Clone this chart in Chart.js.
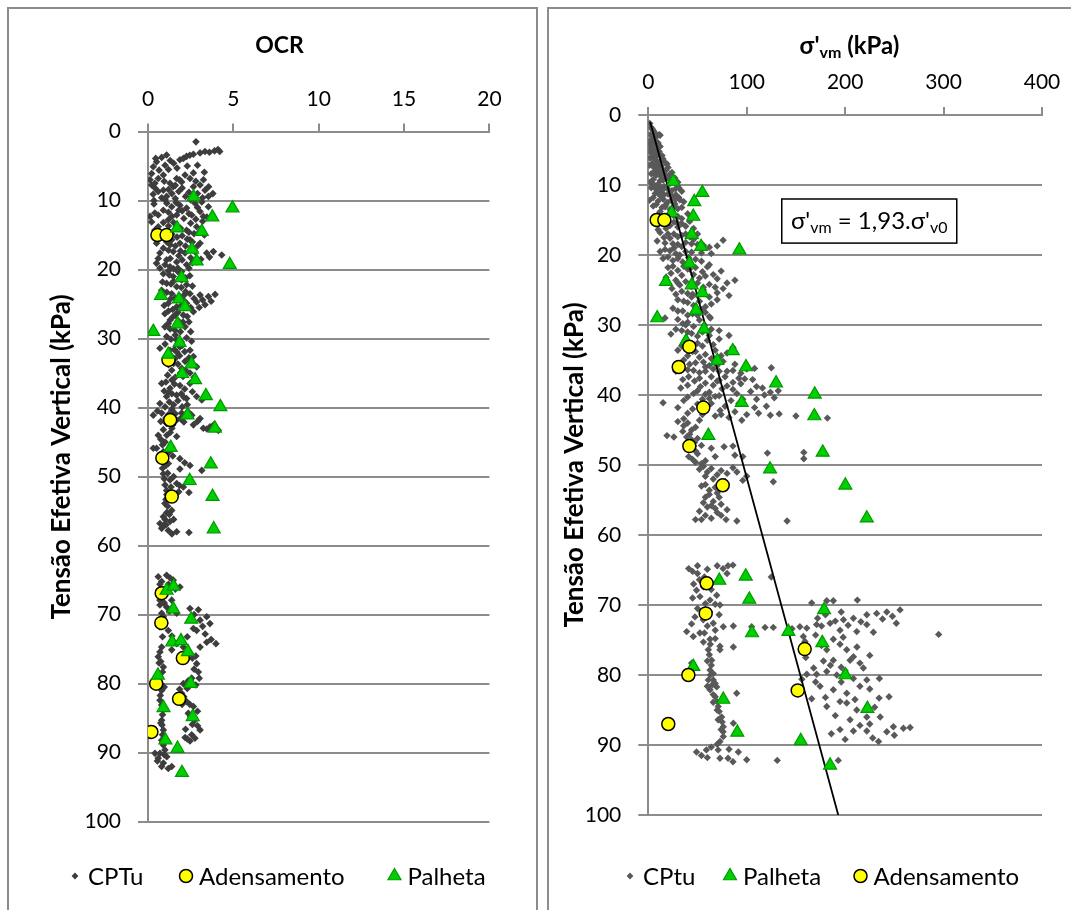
<!DOCTYPE html>
<html lang="pt">
<head>
<meta charset="utf-8">
<title>OCR e tensão de pré-adensamento</title>
<script src="https://cdn.jsdelivr.net/npm/chart.js@4.4.1/dist/chart.umd.min.js"></script>
<style>
  html, body { margin: 0; padding: 0; background: #fff; }
  body { width: 1071px; height: 910px; overflow: hidden; position: relative; }
  .panel { position: absolute; border: 2px solid #8c8c8c; box-sizing: border-box; }
  #panel-ocr { left: 7px; top: 7px; width: 531px; height: 940px; }
  #panel-svm { left: 547px; top: 7px; width: 570px; height: 940px; }
  canvas { position: absolute; }
  #chart-ocr { left: 10px; top: 10px; }
  #chart-svm { left: 550px; top: 10px; }
</style>
</head>
<body>
<div class="panel" id="panel-ocr"></div>
<div class="panel" id="panel-svm"></div>
<canvas id="chart-ocr" width="525" height="900"></canvas>
<canvas id="chart-svm" width="556" height="900"></canvas>
<script>
// -----------------------------
// Axis ticks and titles
// -----------------------------
const depthTicks = [0, 10, 20, 30, 40, 50, 60, 70, 80, 90, 100];
const ocrTicks = [0, 5, 10, 15, 20];
const svmTicks = [0, 100, 200, 300, 400];

const ocrTitle = [{ t: 'OCR' }];
const depthTitle = 'Tensão Efetiva Vertical (kPa)';
const svmTitle = [{ t: "σ'" }, { t: 'vm', sub: true }, { t: ' (kPa)' }];
const fitText = [{ t: "σ'" }, { t: 'vm', sub: true }, { t: " = 1,93.σ'" }, { t: 'v0', sub: true }];

// -----------------------------
// Ensaios de adensamento (yellow circles)
// -----------------------------
const adensDepth = [15.0, 15.0, 33.1, 36.0, 41.8, 47.3, 52.9, 66.9, 71.2, 76.3, 80.0, 82.2, 87.0];
const adensOcr   = [0.55, 1.09, 1.20, null, 1.30, 0.84, 1.39, 0.80, 0.78, 2.04, 0.48, 1.82, 0.20];
const adensSvm   = [8.5, 16.3, 41.7, 30.9, 55.9, 41.7, 75.6, 59.3, 58.3, 158.9, 40.7, 151.8, 20.3];

// -----------------------------
// Ensaios de palheta (green triangles)
// -----------------------------
const palhetaDepth = [9.5, 11.1, 12.4, 14.0, 14.5, 17.1, 18.8, 19.3, 21.2, 23.8, 24.3, 25.4, 29.0, 27.9,
  30.6, 32.3, 33.7, 35.1, 36.0, 38.3, 39.9, 41.1, 43.0, 45.8, 48.2, 50.6, 52.9, 57.6, 66.5, 65.9,
  69.2, 70.7, 74.0, 73.8, 75.4, 78.8, 80.0, 83.5, 84.8, 88.2, 89.4, 92.9];
const palhetaOcr = [2.67, 4.95, 3.77, 1.70, 3.15, 2.58, 2.85, 4.79, 1.97, 0.76, 1.81, 2.16, 0.31, 1.74,
  1.85, 1.19, 2.55, 2.00, 2.76, 3.39, 4.24, 2.31, 3.92, 1.33, 3.68, 2.44, 3.78, 3.85, 1.09, 1.50,
  1.48, 2.53, 1.42, 1.93, 2.34, 0.58, 2.50, 0.91, 2.62, 1.02, 1.73, 1.99];
const palhetaSvm = [25.4, 54.9, 46.7, 23.8, 45.7, 44.1, 53.6, 92.5, 41.7, 18.0, 44.1, 54.9, 9.1, 48.5,
  56.6, 38.3, 85.8, 70.1, 99.3, 129.8, 169.1, 94.9, 168.7, 61.0, 177.2, 123.7, 200.2, 222.0, 72.2, 99.0,
  102.6, 178.6, 105.4, 142.3, 176.8, 45.7, 200.2, 76.2, 222.6, 90.4, 154.9, 184.7];

// -----------------------------
// CPTu profile, left panel: [OCR, depth]
// -----------------------------
const cptuOcr = [
  [2.81,1.5],[3.9,2.8],[4.1,2.6],[4.2,2.9],
  [1.87,4.1],[2.07,3.9],[2.26,3.6],[2.66,3.3],[3.05,3.1],[3.34,2.9],
  [0.31,5.1],[0.5,4.4],[0.8,3.75],[1.09,3.4],[0.21,6.1],
  [0.12,7.0],[0.21,7.75],[0.41,8.2],
  [0.9,8.5],[1.29,7.5],[1.68,6.8],[2.17,6.3],[2.66,6.0],[1.09,9.4],[1.48,8.0],[1.97,7.3],[2.46,6.8],
  [0.6,8.7],[1.0,9.9],[1.4,9.0],[1.8,8.7],[2.2,9.4],[2.66,8.0],[3.05,7.75],[3.34,8.5],[3.54,9.4],
  [3.6,3.0],[2.45,3.45],[1.5,4.6],[1.2,5.5],[0.9,6.3],[0.6,6.8],[0.4,7.5],[1.6,7.8],[2.0,8.2],
  [2.4,8.8],[2.9,9.0],[3.2,9.6],[1.2,8.4],[0.8,9.6],[1.6,9.7],[2.5,9.9],[3.55,8.0],[0.3,9.1],[3.8,9.0],
  [0.45,3.9],[0.65,5.6],[1.0,4.9],[1.3,4.2],[1.7,5.3],[2.3,5.0],[2.9,4.9],[3.3,5.9],[0.95,7.2],
  [1.85,7.0],[2.8,7.2],[3.25,7.0],
  [3.15,10.2],[2.75,10.4],[2.26,11.1],[1.87,10.7],[1.39,10.9],[0.9,11.4],[0.6,12.1],[1.68,12.1],
  [2.56,12.1],[3.05,11.6],[3.54,10.9],[3.24,12.3],[1.19,12.8],[0.12,12.3],[0.21,13.1],
  [0.6,13.8],[1.09,14.5],[1.68,13.8],[2.26,14.3],[2.85,13.8],[1.39,15.7],[1.87,16.2],[2.46,15.7],
  [3.05,16.2],[0.9,16.9],[1.48,17.4],[2.17,17.6],[2.75,17.4],[3.44,17.6],[3.83,17.4],[4.32,17.9],
  [0.6,18.4],[1.09,18.6],[1.68,18.9],[2.26,19.3],[0.7,19.8],[1.29,19.6],[1.97,20.3],[2.85,18.9],[0.5,19.1],
  [0.35,10.5],[1.1,10.4],[1.65,10.3],[2.0,11.5],[2.9,11.0],[0.4,11.8],[1.4,12.3],[2.1,12.6],[2.8,12.7],
  [0.9,13.2],[1.5,13.2],[2.5,13.3],[3.2,13.0],[0.4,14.3],[0.85,15.2],[1.4,14.9],[2.0,15.1],[2.7,14.8],
  [3.3,15.0],[0.5,16.2],[1.1,16.0],[1.6,16.6],[2.2,16.6],[2.9,16.6],[0.7,17.6],[1.8,18.0],[2.5,18.3],
  [3.1,18.5],[1.0,19.3],[1.5,19.9],[2.4,19.8],[3.6,18.2],
  [0.35,10.0],[1.2,11.7],[1.8,11.4],[2.4,11.9],[3.45,12.4],[0.7,14.8],[1.2,13.7],[1.9,14.0],[2.4,14.6],
  [3.0,14.6],[1.1,15.5],[1.7,15.3],[2.3,15.6],[1.3,16.4],[2.6,16.0],[1.2,17.2],[1.9,17.3],[1.3,18.4],
  [2.0,18.6],[2.6,19.0],[1.75,19.8],
  [1.48,21.0],[1.97,21.5],[1.09,22.0],[1.68,22.5],[2.26,22.2],[0.8,23.0],[1.39,23.5],[1.87,23.9],
  [2.46,23.5],[3.05,23.7],[3.54,23.9],[3.93,23.6],[2.85,24.7],[3.34,25.1],[1.19,24.9],[1.68,25.4],
  [2.26,24.9],[0.99,26.4],[1.48,26.8],[2.07,26.6],[2.66,26.1],[1.19,27.8],
  [0.9,20.6],[1.25,20.8],[1.75,20.3],[2.45,20.9],[0.85,21.8],[1.35,22.1],[1.95,22.6],[2.6,22.4],
  [1.1,23.3],[1.6,24.1],[2.15,23.6],[2.7,24.2],[3.2,24.4],[3.7,24.6],[0.95,25.2],[1.45,25.8],
  [1.95,25.2],[2.5,25.5],[3.0,25.5],[1.2,26.0],[1.75,26.2],[2.3,26.8],[1.3,27.3],[1.8,27.5],[2.4,27.6],
  [1.2,20.2],[2.2,21.2],[1.5,21.7],[2.2,23.2],[1.3,24.3],[2.1,24.5],[1.6,26.6],[2.05,27.6],
  [0.99,28.3],[1.58,28.8],[2.17,28.3],[1.09,29.7],[1.68,30.2],[2.26,29.9],[0.7,31.4],[1.29,31.7],
  [1.87,31.2],[2.46,31.7],[1.09,33.1],[1.58,32.9],[2.17,33.3],[2.66,32.6],[1.39,34.6],[1.97,34.3],
  [2.46,35.0],[2.85,34.1],
  [1.3,28.6],[1.9,29.0],[2.5,29.0],[1.35,30.1],[1.95,30.5],[2.55,30.4],[1.0,30.8],[1.55,31.6],
  [2.15,31.9],[1.3,32.5],[1.85,32.5],[2.4,32.8],[1.2,33.8],[1.75,33.7],[2.2,34.6],[1.15,35.3],
  [1.6,35.6],[2.05,35.5],[2.7,35.6],[1.6,29.5],[2.0,31.0],[1.7,32.0],[1.5,33.6],[1.9,35.0],
  [0.8,36.5],[1.29,37.2],[1.87,36.8],[2.46,36.5],[1.09,38.4],[1.68,38.2],[2.26,38.7],[2.85,38.4],
  [3.44,38.2],[0.7,39.4],[1.0,39.9],[1.5,39.6],[2.0,39.9],
  [1.05,36.3],[1.55,36.6],[2.15,37.3],[0.95,37.6],[1.4,38.0],[1.95,38.0],[2.6,37.7],[3.15,38.9],
  [1.25,39.2],[1.75,39.0],[2.3,39.6],[1.4,36.0],[1.2,37.8],[2.1,38.5],
  [0.31,41.1],[0.8,40.8],[1.39,40.4],[1.97,40.8],[2.56,41.1],[3.05,41.6],[3.63,42.8],[4.12,43.3],
  [2.66,42.5],[3.24,43.0],[1.68,41.8],[1.09,42.3],[1.2,41.0],[2.1,42.1],[0.9,43.2],[1.3,43.6],
  [0.55,40.5],[1.05,41.5],[1.6,40.9],[2.35,40.6],[0.75,42.0],[1.45,42.5],[2.9,42.0],[3.45,43.1],[3.85,42.5],
  [1.4,40.2],[1.9,41.6],[1.4,43.0],
  [0.6,44.0],[1.0,45.0],[0.5,45.9],[0.9,46.4],[1.39,45.7],[0.7,47.6],[1.19,48.1],[1.87,47.4],
  [2.46,48.4],[1.87,48.9],[3.15,49.1],[0.31,45.9],[1.68,44.2],[0.75,44.6],[0.8,46.9],[0.85,48.8],
  [1.1,44.0],[0.85,45.4],[1.2,46.5],[0.95,47.5],[1.05,48.4],[1.45,47.0],[2.15,48.0],
  [0.9,49.6],[1.29,50.5],[1.68,51.0],[2.07,51.5],[1.09,52.0],[1.58,52.9],[2.4,52.3],[0.99,53.9],
  [1.39,54.9],[0.9,55.8],[1.29,56.5],[0.8,57.5],[1.19,57.8],[1.68,58.0],[2.4,58.1],
  [0.95,50.3],[1.0,51.2],[1.1,52.6],[1.05,53.3],[1.15,54.3],[1.1,55.2],[1.0,56.2],[0.95,57.0],[1.4,58.3],
  [1.15,49.5],[1.5,50.0],[1.35,51.5],[1.85,51.3],[1.25,53.2],[1.8,52.2],[1.25,55.5],[1.05,57.0],
  [0.7,56.8],[1.5,56.2],
  [0.6,64.5],[1.09,64.3],[1.48,65.0],[1.87,66.0],[0.9,66.4],[0.7,67.9],[1.09,68.9],[1.39,67.9],
  [0.8,69.8],[1.68,69.8],[0.8,65.2],[1.2,65.6],[0.85,67.2],[0.95,68.3],[0.75,70.6],[1.0,71.2],
  [1.3,64.7],[0.7,65.6],[1.6,66.3],[1.05,66.8],[0.7,68.6],[1.25,69.5],[0.9,70.3],
  [2.46,69.1],[2.95,69.3],[3.44,70.3],[3.63,71.3],[3.05,70.8],[0.7,71.8],[1.19,72.3],[2.66,72.0],
  [2.7,70.0],[3.2,71.7],[2.85,72.3],[3.35,72.8],[2.3,73.2],[1.4,73.1],[0.85,73.2],[3.7,73.6],
  [3.98,74.2],[0.8,74.7],[0.6,76.1],[0.9,77.6],[0.7,79.0],[0.8,81.0],[0.7,82.4],[0.9,83.8],
  [0.8,85.3],[0.9,86.7],[0.8,88.2],[0.99,89.6],
  [0.7,75.4],[0.75,76.8],[0.85,78.3],[0.75,80.0],[0.72,81.7],[0.8,83.1],[0.85,84.5],[0.82,86.0],
  [0.85,87.4],[0.9,88.9],[0.95,90.3],[0.65,77.0],[0.95,80.5],[0.75,85.7],[0.95,87.8],
  [2.07,74.7],[2.46,75.6],[2.85,77.1],[2.95,78.3],[2.56,79.2],[2.07,80.0],[1.97,81.4],[2.26,82.6],
  [2.66,83.3],[2.36,84.3],[2.75,85.3],[3.05,86.7],[2.56,87.4],[2.17,87.8],[2.46,88.3],[1.68,74.2],
  [1.39,75.1],[3.05,74.7],[3.44,74.0],
  [2.6,76.3],[2.7,77.9],[2.3,80.7],[2.1,81.9],[2.45,83.0],[2.5,84.8],[2.9,86.1],[2.3,88.0],
  [2.3,76.4],[2.8,76.0],[3.0,79.2],[2.8,80.2],[2.35,79.6],[1.85,80.8],[2.0,83.0],[2.9,84.0],
  [2.6,85.9],[2.2,86.6],[2.75,87.9],
  [0.41,90.1],[0.6,90.8],[0.9,91.5],[1.19,92.3],[1.39,92.0],[0.7,90.1],[1.1,90.6],[0.55,91.2],[0.8,92.0]
];

// -----------------------------
// CPTu profile, right panel: [sigma'vm, depth]
// -----------------------------
const cptuSvm = [
  [1.5,1.2],[3,1.8],[5,2.2],[7,2.6],[9,3.0],[2,2.8],[4,3.4],[1,3.8],[6,3.9],[10,4.0],[3,4.6],
  [8,4.8],[12,4.5],[1,5.2],[11,2.8],[12,2.9],
  [2,4.2],[6,4.6],[9,5.2],[3,6.0],[8,6.0],[15,6.3],[4,7.0],[13,7.3],[19,7.0],[7,8.0],[22,8.5],
  [11,8.3],[16,8.4],[5,9.2],[15,9.3],[25,9.4],
  [4,2.0],[6,3.2],[8,3.8],[4,5.0],[11,5.2],[6,6.8],[9,7.0],[18,7.9],[12,9.4],[20,9.0],
  [5,5.5],[10,5.6],[14,5.8],[2,6.2],[7,6.4],[12,6.6],[17,6.8],[1,7.2],[5,7.4],[10,7.6],[20,7.5],
  [15,7.9],[24,8.2],[3,8.4],[8,8.6],[13,8.8],[18,9.0],[27,9.0],[2,9.6],[22,9.8],[30,9.6],[10,9.9],
  [3,10.4],[12,10.3],[20,10.6],[28,10.5],[34,10.9],[7,11.2],[16,11.4],[24,11.6],[31,11.8],[1,12.2],
  [10,12.3],[19,12.5],[27,12.7],[36,12.4],[5,13.0],[14,13.2],[22,13.5],[30,13.4],
  [8,10.6],[16,10.2],[24,10.8],[31,10.4],[12,11.5],[20,11.3],[28,11.4],[5,11.8],[15,12.0],[23,12.2],
  [32,12.1],[8,12.8],[17,13.1],[26,13.0],[34,13.2],[12,13.8],[22,14.0],[30,14.5],[6,14.8],[14,15.2],
  [26,15.3],[34,15.5],[42,15.2],[18,16.2],[16,17.5],[22,17.6],[30,17.4],[46,17.8],[25,18.4],[34,18.8],
  [50,18.5],[17,19.2],[28,19.8],[38,19.5],[54,19.7],[64,19.8],
  [6,10.0],[14,10.8],[10,11.0],[18,12.8],[28,12.0],[20,15.0],[10,16.4],[30,15.5],[20,17.0],[38,17.0],
  [26,19.0],[44,18.4],
  [10,14.2],[18,14.6],[26,14.4],[34,14.8],[40,14.1],[8,15.6],[22,15.8],[30,16.0],[38,15.9],[46,16.2],
  [12,16.8],[26,17.0],[34,17.2],[42,17.4],[50,17.0],[9,18.0],[17,18.3],[30,18.5],[38,18.2],[56,18.6],
  [62,18.9],[70,18.7],[76,17.9],[12,19.5],[22,19.4],[44,19.6],
  [15,20.5],[25,20.8],[35,21.0],[48,20.6],[20,21.8],[30,22.2],[42,22.0],[55,22.4],[66,22.8],[74,22.3],
  [18,23.2],[28,23.6],[38,23.8],[50,24.0],[62,24.2],[80,24.0],[88,23.6],[24,24.8],[34,25.2],[45,25.6],
  [56,25.0],[70,25.4],[82,25.8],[30,26.4],[40,26.8],[52,26.6],[64,27.0],
  [20,20.3],[30,20.5],[41,20.4],[54,20.9],[62,21.4],[25,21.6],[36,21.6],[48,21.8],[60,21.7],[23,22.6],
  [34,22.9],[46,22.8],[58,23.0],[70,23.4],[32,24.3],[44,24.5],[56,24.6],[68,24.6],[76,24.8],[28,25.6],
  [40,25.5],[50,25.8],[62,26.0],[36,26.6],[46,27.2],[58,27.4],[70,26.4],
  [32,20.0],[40,22.0],[52,23.3],[30,24.0],[44,26.0],[54,27.8],
  [25,27.6],[35,28.0],[45,28.4],[58,28.2],[30,29.2],[40,29.6],[52,29.3],[63,29.0],[17,29.0],
  [30,28.0],[40,28.6],[50,28.6],[62,28.8],[35,29.8],[46,30.2],[57,30.0],
  [23,31.3],[34,30.8],[44,31.2],[55,31.0],[64,30.6],[38,32.4],[50,32.6],[60,32.2],[72,32.0],[82,31.5],
  [30,33.6],[45,33.8],[58,34.2],[68,33.6],[80,34.0],[36,35.0],[48,35.4],[62,35.8],[76,35.2],[88,35.6],
  [28,30.6],[40,31.0],[50,31.6],[62,31.5],[72,30.8],[44,32.7],[55,33.0],[66,32.8],[34,33.0],[40,34.4],
  [52,34.6],[64,34.8],[74,34.4],[86,33.2],[42,35.6],[56,35.3],[70,35.8],[38,30.0],[48,33.8],
  [28,36.6],[40,36.4],[52,36.8],[66,36.3],[80,36.6],[94,36.9],[108,36.2],[125,36.1],[35,37.8],[47,38.0],
  [58,38.3],[72,37.9],[86,38.2],[98,37.7],[33,39.0],[50,39.4],[62,39.6],[75,39.1],[90,39.8],[104,39.5],
  [116,39.0],[124,39.6],[132,39.4],[118,40.0],[128,40.4],[40,40.3],[55,40.6],[68,40.2],[84,40.8],[15,41.1],
  [34,36.2],[46,36.5],[58,36.6],[72,36.6],[86,36.5],[100,36.3],[41,37.4],[52,37.6],[64,37.4],[78,37.4],
  [92,37.6],[106,37.8],[40,38.6],[53,38.8],[66,38.6],[80,38.7],[94,38.4],[110,38.8],[46,39.8],[58,39.9],
  [72,40.1],[96,40.6],[110,40.6],[58,36.0],[70,38.0],[62,40.5],[86,39.2],
  [30,41.8],[45,42.0],[60,41.6],[73,42.2],[88,42.4],[100,42.8],[112,42.6],[124,42.9],[133,42.7],
  [150,43.0],[182,43.3],[36,43.4],[52,43.6],
  [36,40.8],[50,41.3],[64,41.2],[78,41.6],[92,41.2],[108,41.8],[120,41.6],[40,42.6],[55,42.8],[68,43.0],
  [82,43.2],[95,43.6],[30,43.8],[74,42.8],
  [36,44.4],[44,45.0],[39,46.0],[47,46.8],[42,47.6],[50,48.4],[45,49.2],[54,49.8],[19,45.8],[26,46.0],
  [77,47.4],[86,47.3],[88,48.6],[96,48.8],[121,48.3],[158,48.2],[158,49.1],[64,47.6],[68,48.8],
  [40,44.0],[48,44.6],[35,45.2],[42,45.6],[50,46.2],[44,46.4],[38,47.0],[46,47.3],[54,47.2],[48,48.0],
  [41,48.8],[48,49.6],[58,49.4],
  [52,50.6],[60,51.0],[70,51.4],[80,51.2],[90,51.0],[100,51.6],[96,52.2],[127,52.4],[54,53.0],[62,53.6],
  [70,54.0],[58,54.6],[66,55.2],[74,55.6],[60,56.0],[52,56.6],[70,56.8],[80,56.4],[48,57.8],[64,57.6],
  [79,57.8],[90,58.0],[141,58.0],
  [56,50.2],[64,50.5],[74,50.8],[86,50.4],[58,51.6],[66,52.0],[78,52.4],[58,52.8],[68,53.2],[62,54.2],
  [72,54.6],[64,55.8],[56,55.4],[68,56.2],[58,57.2],[74,57.2],[54,57.8],
  [41,64.8],[50,64.4],[50,65.5],[76,64.8],[81,64.4],[86,64.3],[80,65.5],[125,66.0],[52,66.4],
  [45,65.2],[60,64.9],[70,64.4],[57,66.0],[46,67.0],[56,67.4],[64,67.8],[45,69.0],[58,69.8],[68,69.9],
  [50,70.5],[62,71.0],[72,71.4],[44,72.7],[60,73.0],
  [49,67.9],[52.5,68.8],[62.7,69.3],[69.5,68.6],[72.8,70.0],[47.4,71.7],[55.8,72.1],[66,72.6],[76.2,73.1],
  [39,73.8],[45.7,74.5],[52.4,74.0],[86.4,73.0],[105,73.1],[118.6,73.2],[127,73.2],[68,73.6],[86.4,76.0],
  [72.8,76.4],
  [62.7,74.9],[61,76.4],[64.4,77.9],[62.7,79.3],[66,80.7],[62.7,82.1],[68,83.1],[71,84.5],[74.5,86.0],
  [76.2,87.4],[76.2,88.8],[72.8,89.5],[44,78.3],[72.8,75.9],[69.5,81.7],[61,80.7],[89.8,82.6],[86.4,86.9],
  [68,81.2],[71,86.4],[63,75.6],[62,77.1],[64,78.6],[63,80.0],[65,81.4],[66,82.8],[70,83.8],[72,85.2],
  [75,86.7],[76,88.1],[57,74.0],[68,74.8],[56,75.3],[60,78.0],[66,79.8],[60,81.6],[66,83.9],[70,85.0],
  [74,87.8],[70,89.9],
  [49,91.0],[59,90.7],[71,90.7],[81,91.9],[100,92.1],[131,92.2],[193,92.2],[54,91.5],[72.8,91.9],[91.5,91.0],
  [64,90.3],[82,90.6],[60,91.8],[86,92.4],
  [166,69.7],[181.3,69.4],[188,69.4],[212.4,69.3],[295,74.2],
  [154,73.1],[161,73.3],[171,72.8],[184.7,72.6],[198.3,72.1],[208.4,71.9],[222,71.4],[232,71.2],
  [242.3,71.0],[255.8,70.7],[194.8,73.6],[211.8,73.8],[228.7,73.9],
  [157.5,74.5],[159.2,75.2],[188,74.9],[194.8,75.6],[201.6,76.4],[208.4,77.4],[215,78.3],[218.5,79.0],
  [188,77.9],[181.3,76.4],[205,77.9],
  [161,79.9],[171,79.9],[181.3,79.5],[191.5,80.0],[208.4,80.5],[222,80.7],[234.8,80.5],[174.5,81.6],
  [188,82.1],[201.6,82.6],[244.6,83.1],[234.5,83.3],[194.8,83.8],
  [181.3,84.5],[201.6,84.0],[211.8,85.0],[222,86.0],[235.6,86.0],
  [194.8,87.8],[208.4,88.0],[222,88.0],[233.9,89.5],[249,87.4],[259.2,87.6],[266,87.5],[242.3,88.1],
  [146,73.4],[176,73.0],[190,72.3],[203,72.9],[216,72.4],[238,72.0],[248,71.6],[176,75.8],[185,78.6],
  [196,78.9],[170,81.0],[180,83.2],[210,83.5],[225,82.0],[190,85.8],[215,87.2],[228,89.0],[160,77.5],
  [172,71.9],[180,71.4],[196,71.0],[222,72.8],[252,72.6],[170,74.3],[198,74.6],[212,76.0],[225,77.2],
  [178,78.0],[168,79.0],[200,79.4],[215,81.6],[196,81.0],[230,84.6],[205,86.4],[225,87.0],[250,88.6],
  [200,89.2],[186,88.4],[166,83.4],[156,80.6]
];

// -----------------------------
// Fitted line sigma'vm = 1,93 sigma'v0
// -----------------------------
const fitSvm = [1.9, 193];
const fitDepth = [1, 100];

// -----------------------------
// Helpers
// -----------------------------
const FONT = 'Lato, "Open Sans", sans-serif';
const GRID = '#8c8c8c';
Chart.defaults.font.family = FONT;
Chart.defaults.color = '#000';

function toPoints(xs, ys) { return xs.map((x, i) => ({ x: x, y: ys[i] })).filter(p => p.x !== null); }
function fromPairs(list) { return list.map(p => ({ x: p[0], y: p[1] })); }

function drawRich(ctx, parts, cx, cy, size, weight) {
    const subSize = Math.round(size * 0.68);
    const widths = parts.map(p => {
        ctx.font = `${weight} ${p.sub ? subSize : size}px ${FONT}`;
        return ctx.measureText(p.t).width;
    });
    let x = cx - widths.reduce((a, b) => a + b, 0) / 2;
    ctx.textAlign = 'left';
    ctx.textBaseline = 'middle';
    parts.forEach((p, i) => {
        ctx.font = `${weight} ${p.sub ? subSize : size}px ${FONT}`;
        ctx.fillText(p.t, x, cy + (p.sub ? size * 0.3 : 0));
        x += widths[i];
    });
}

// titles with subscripts, rotated y title, equation box and legend row
const panelText = {
    id: 'panelText',
    afterDraw(chart, args, o) {
        const ctx = chart.ctx;
        ctx.save();
        ctx.fillStyle = '#000';
        drawRich(ctx, o.title, o.titleAt[0], o.titleAt[1], o.titleSize, 'bold');

        ctx.save();
        ctx.translate(o.yTitleAt[0], o.yTitleAt[1]);
        ctx.rotate(-Math.PI / 2);
        drawRich(ctx, [{ t: depthTitle }], 0, 0, 26, 'bold');
        ctx.restore();

        if (o.box) {
            const xs = chart.scales.x, ys = chart.scales.y;
            const l = xs.getPixelForValue(o.box.x0), r = xs.getPixelForValue(o.box.x1);
            const t = ys.getPixelForValue(o.box.y0), b = ys.getPixelForValue(o.box.y1);
            ctx.fillStyle = '#fff';
            ctx.fillRect(l, t, r - l, b - t);
            ctx.strokeStyle = '#000';
            ctx.lineWidth = 1.5;
            ctx.strokeRect(l, t, r - l, b - t);
            ctx.fillStyle = '#000';
            drawRich(ctx, o.box.parts, (l + r) / 2, (t + b) / 2, 24, 'normal');
        }

        // legend: one marker per named dataset, drawn with the library's point helper
        const named = chart.data.datasets.filter(ds => ds.label);
        named.forEach((ds, i) => {
            const x = o.legendX[i], y = o.legendY;
            ctx.fillStyle = ds.backgroundColor;
            ctx.strokeStyle = ds.borderColor || ds.backgroundColor;
            ctx.lineWidth = ds.borderWidth;
            Chart.helpers.drawPoint(ctx, { pointStyle: ds.pointStyle, radius: ds.legendRadius || ds.pointRadius,
                borderWidth: ds.borderWidth, rotation: 0 }, x, y);
            ctx.fillStyle = '#000';
            ctx.font = `24px ${FONT}`;
            ctx.textAlign = 'left';
            ctx.textBaseline = 'middle';
            ctx.fillText(ds.label, x + 13, y + 1);
        });
        ctx.restore();
    }
};

function buildScales(g) {
    return {
        x: {
            type: 'linear', position: 'top', min: 0, max: g.xMax,
            afterBuildTicks: s => { s.ticks = g.xTicks.map(v => ({ value: v })); },
            afterFit: s => { s.height = g.xHeight; },
            grid: { drawOnChartArea: false, color: GRID, lineWidth: 2, tickLength: 8 },
            border: { color: GRID, width: 2 },
            ticks: { font: { size: 21 }, color: '#000', padding: g.xPad, maxRotation: 0, autoSkip: false }
        },
        y: {
            type: 'linear', reverse: true, min: 0, max: 100,
            afterBuildTicks: s => { s.ticks = depthTicks.map(v => ({ value: v })); },
            afterFit: s => { s.width = g.yWidth; },
            grid: { color: GRID, lineWidth: 2, tickLength: 10 },
            border: { color: GRID, width: 2 },
            ticks: { font: { size: 21 }, color: '#000', padding: 17, autoSkip: false }
        }
    };
}

// -----------------------------
// Left chart: OCR
// -----------------------------
new Chart(document.getElementById('chart-ocr'), {
    type: 'scatter',
    data: {
        datasets: [
            { label: 'CPTu', data: fromPairs(cptuOcr), pointStyle: 'rectRot', pointRadius: 3.8, legendRadius: 3.4,
              backgroundColor: '#3d3d3d', borderWidth: 0, order: 3 },
            { label: 'Adensamento', data: toPoints(adensOcr, adensDepth), pointStyle: 'circle', pointRadius: 6.5,
              backgroundColor: '#ffff00', borderColor: '#000', borderWidth: 1.5, order: 2 },
            { label: 'Palheta', data: toPoints(palhetaOcr, palhetaDepth), pointStyle: 'triangle', pointRadius: 7.5,
              backgroundColor: '#00d000', borderColor: '#009a00', borderWidth: 1.2, order: 1 }
        ]
    },
    options: {
        responsive: false, animation: false, events: [],
        layout: { padding: { left: 10, right: 45.6, top: 0, bottom: 88.3 } },
        scales: buildScales({ xMax: 20, xTicks: ocrTicks, xHeight: 121.5, xPad: 11.5, yWidth: 128 }),
        plugins: {
            legend: { display: false },
            tooltip: { enabled: false },
            panelText: { title: ocrTitle, titleSize: 23, titleAt: [269.5, 36], yTitleAt: [52, 447],
                         legendX: [65, 176, 384.5], legendY: 866 }
        }
    },
    plugins: [panelText]
});

// -----------------------------
// Right chart: sigma'vm
// -----------------------------
new Chart(document.getElementById('chart-svm'), {
    type: 'scatter',
    data: {
        datasets: [
            { label: 'CPtu', data: fromPairs(cptuSvm), pointStyle: 'rectRot', pointRadius: 3.7, legendRadius: 3.4,
              backgroundColor: '#595959', borderWidth: 0, order: 4 },
            { label: 'Palheta', data: toPoints(palhetaSvm, palhetaDepth), pointStyle: 'triangle', pointRadius: 7.5,
              backgroundColor: '#00d000', borderColor: '#009a00', borderWidth: 1.2, order: 2 },
            { label: 'Adensamento', data: toPoints(adensSvm, adensDepth), pointStyle: 'circle', pointRadius: 6.5,
              backgroundColor: '#ffff00', borderColor: '#000', borderWidth: 1.5, order: 1 },
            { label: '', data: toPoints(fitSvm, fitDepth), showLine: true, pointRadius: 0,
              borderColor: '#000', borderWidth: 1.8, order: 3 }
        ]
    },
    options: {
        responsive: false, animation: false, events: [],
        layout: { padding: { left: 10, right: 64, top: 0, bottom: 95 } },
        scales: buildScales({ xMax: 400, xTicks: svmTicks, xHeight: 105, xPad: 12, yWidth: 88.3 }),
        plugins: {
            legend: { display: false },
            tooltip: { enabled: false },
            panelText: {
                title: svmTitle, titleSize: 24, titleAt: [299.5, 36], yTitleAt: [25, 455],
                box: { x0: 135.6, x1: 313.4, y0: 12.0, y1: 18.3, parts: fitText },
                legendX: [80, 180, 310.5], legendY: 866
            }
        }
    },
    plugins: [panelText]
});
</script>
</body>
</html>
